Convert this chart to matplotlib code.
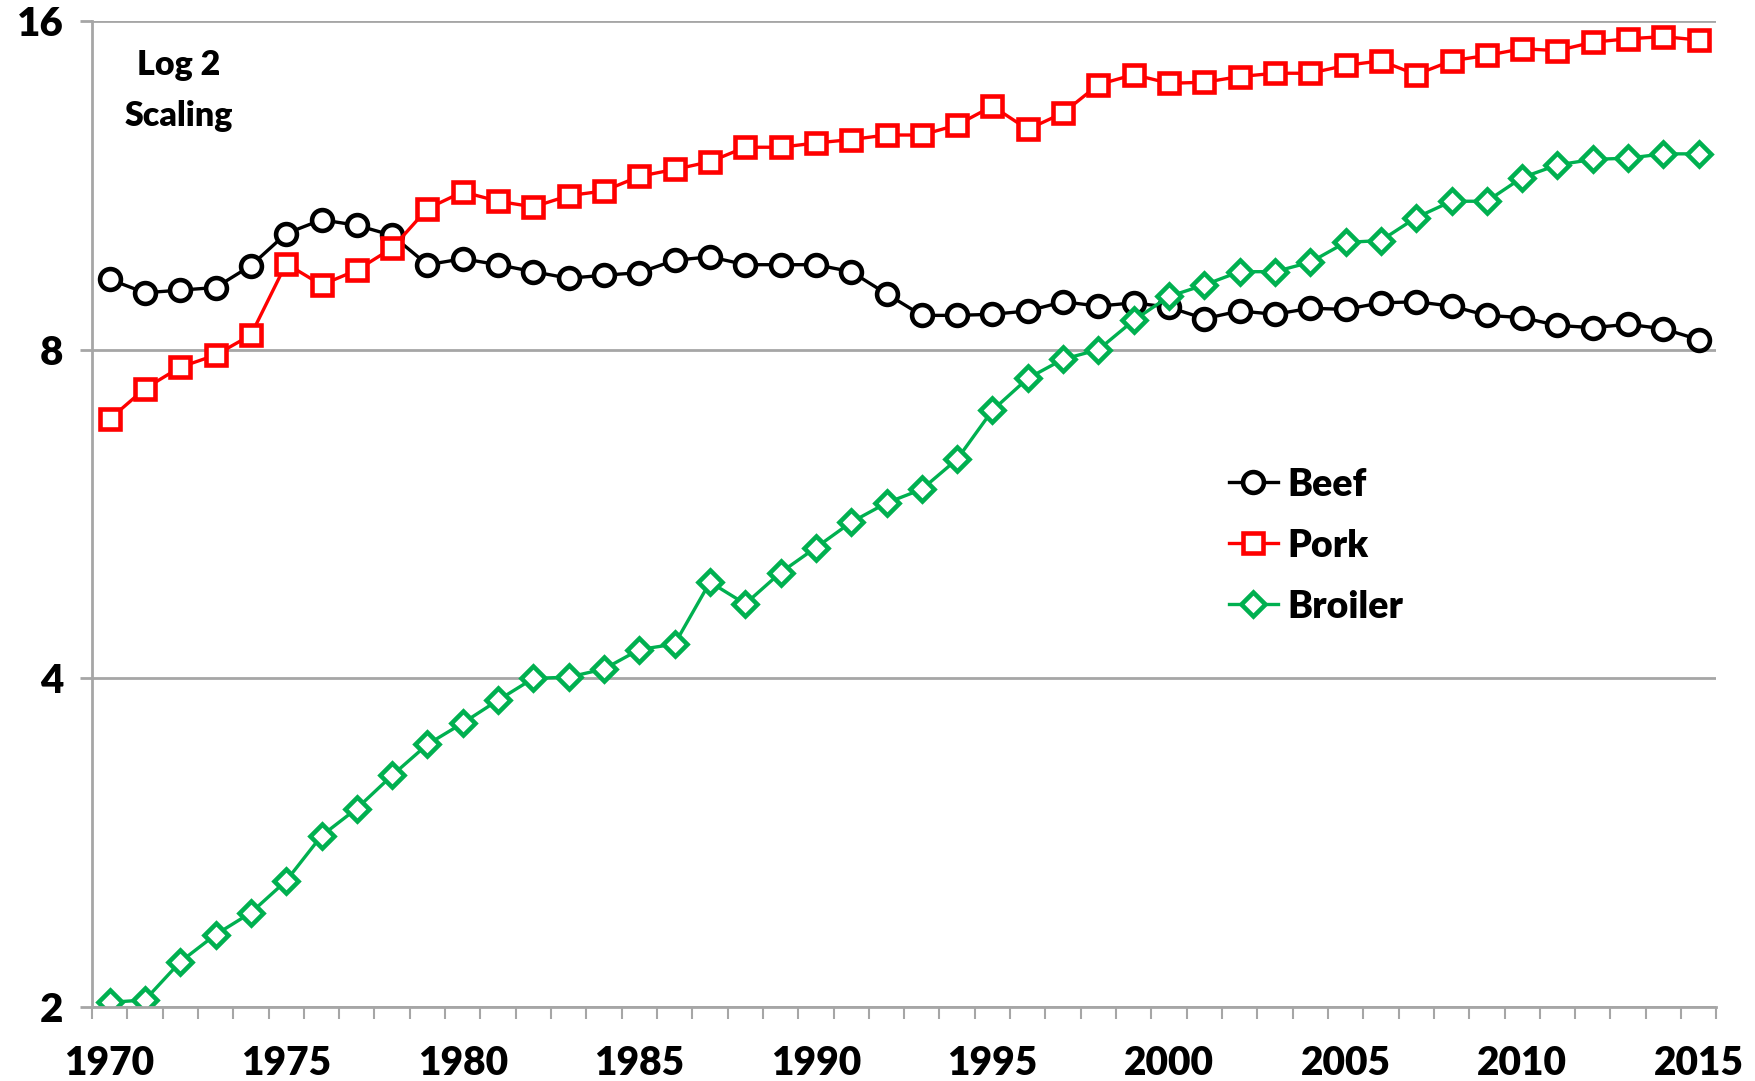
import numpy as np
import matplotlib
matplotlib.use("Agg")
import matplotlib.pyplot as plt
from matplotlib.ticker import FixedLocator, NullFormatter

plt.rcParams["font.family"] = ["Lato", "DejaVu Sans"]
plt.rcParams["font.weight"] = "heavy"

YEARS = list(range(1970, 2016))

BEEF = [9.28, 9.02, 9.07, 9.12, 9.55, 10.22, 10.52, 10.40, 10.18, 9.57,
        9.69, 9.57, 9.43, 9.30, 9.36, 9.41, 9.66, 9.73, 9.57, 9.57,
        9.57, 9.43, 9.00, 8.60, 8.60, 8.62, 8.68, 8.85, 8.77, 8.83,
        8.75, 8.54, 8.68, 8.62, 8.73, 8.71, 8.83, 8.85, 8.77, 8.60,
        8.56, 8.42, 8.38, 8.44, 8.36, 8.17]

PORK = [6.91, 7.37, 7.71, 7.91, 8.25, 9.59, 9.17, 9.46, 9.91, 10.77,
        11.16, 10.94, 10.81, 11.07, 11.18, 11.53, 11.70, 11.89, 12.26, 12.26,
        12.37, 12.46, 12.58, 12.58, 12.85, 13.37, 12.73, 13.18, 13.99, 14.29,
        14.03, 14.06, 14.23, 14.33, 14.33, 14.57, 14.71, 14.29, 14.71, 14.88,
        15.09, 15.03, 15.30, 15.41, 15.48, 15.37]

BROILER = [2.02, 2.03, 2.20, 2.33, 2.44, 2.61, 2.87, 3.04, 3.26, 3.48,
           3.64, 3.82, 4.00, 4.01, 4.08, 4.25, 4.30, 4.90, 4.68, 5.00,
           5.27, 5.56, 5.79, 5.96, 6.35, 7.04, 7.53, 7.84, 8.00, 8.51,
           8.95, 9.17, 9.43, 9.43, 9.62, 10.03, 10.07, 10.57, 10.94, 10.94,
           11.50, 11.81, 11.95, 11.98, 12.09, 12.09]

Y_TICKS = [2, 4, 8, 16]
X_LABEL_YEARS = list(range(1970, 2016, 5))

GRID = "#a6a6a6"

fig = plt.figure(figsize=(17.55, 10.81), dpi=100)
ax = fig.add_axes([0.0524, 0.0684, 0.9256, 0.9122])

style = dict(linewidth=2.4, markersize=15, markeredgewidth=3.3,
             markerfacecolor="white")
ax.plot(YEARS, BEEF, color="black", marker="o", label="Beef", **style)
ax.plot(YEARS, PORK, color="#ff0000", marker="s", label="Pork",
        **{**style, "markersize": 14})
ax.plot(YEARS, BROILER, color="#00b050", marker="D", label="Broiler",
        **{**style, "markersize": 12.5})

# log base-2 value axis
ax.set_yscale("log", base=2)
ax.set_ylim(2, 16)
ax.yaxis.set_major_locator(FixedLocator(Y_TICKS))
ax.yaxis.set_minor_locator(FixedLocator([]))
ax.set_yticklabels([str(v) for v in Y_TICKS])
ax.grid(axis="y", color=GRID, linewidth=2)
ax.set_axisbelow(True)

# category style x axis: ticks between years, labels every 5 years
ax.set_xlim(YEARS[0] - 0.5, YEARS[-1] + 0.5)
ax.set_xticks(X_LABEL_YEARS)
ax.set_xticklabels([str(y) for y in X_LABEL_YEARS])
ax.xaxis.set_minor_locator(FixedLocator(np.arange(YEARS[0] - 0.5, YEARS[-1] + 1, 1)))
ax.xaxis.set_minor_formatter(NullFormatter())

ax.tick_params(axis="x", which="major", length=0, pad=27, labelsize=28)
ax.tick_params(axis="x", which="minor", length=12 / 1.389, width=1.5,
               color=GRID, direction="out")
ax.tick_params(axis="y", which="major", length=12 / 1.389, width=2,
               color=GRID, direction="out", pad=12, labelsize=29)

for side in ("top", "right"):
    ax.spines[side].set_visible(False)
for side in ("left", "bottom"):
    ax.spines[side].set_color(GRID)
    ax.spines[side].set_linewidth(2)

ax.text(0.0536, 0.9295, "Log 2\nScaling", transform=ax.transAxes,
        ha="center", va="center", fontsize=24.5, fontweight="heavy",
        linespacing=1.75)

ax.legend(loc="center left", bbox_to_anchor=(0.70, 0.468), frameon=False,
          fontsize=27, handlelength=1.3, handletextpad=0.25,
          labelspacing=0.72, borderaxespad=0, borderpad=0)

fig.savefig("out.png", dpi=100)
